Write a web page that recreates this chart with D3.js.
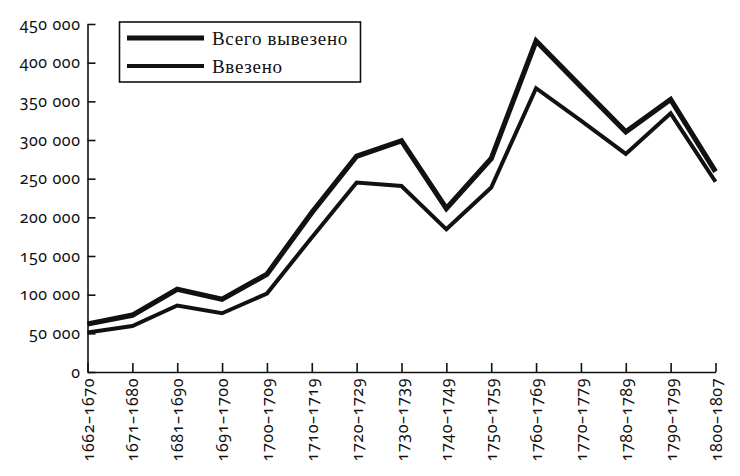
<!DOCTYPE html>
<html>
<head>
<meta charset="utf-8">
<script src="https://cdn.jsdelivr.net/npm/d3@7"></script>
<style>
  body { margin: 0; background: #fff; }
  .tick text { font-family: "Noto Sans", "DejaVu Sans", sans-serif; font-size: 16px; letter-spacing: 0.6px; font-variant-numeric: oldstyle-nums; font-feature-settings: "onum"; fill: #111; }
  .legend text { font-family: "Liberation Serif", "DejaVu Serif", serif; font-size: 19px; letter-spacing: 0.7px; fill: #111; }
</style>
</head>
<body>
<div class="chart"></div>
<script>
// periods along the x axis
const periods = ["1662–1670", "1671–1680", "1681–1690", "1691–1700", "1700–1709",
  "1710–1719", "1720–1729", "1730–1739", "1740–1749", "1750–1759",
  "1760–1769", "1770–1779", "1780–1789", "1790–1799", "1800–1807"];

// total exported (thick line)
const exported = [62000, 73500, 107000, 94000, 126500, 206000, 279000, 299000,
  211500, 276000, 428000, 369000, 310500, 352500, 259000];

// imported
const imported = [51000, 59500, 86000, 76000, 101500, 174000, 245000, 240500,
  184500, 238500, 367000, 325000, 282000, 334500, 246000];

const yTicks = [0, 50000, 100000, 150000, 200000, 250000, 300000, 350000, 400000, 450000];

const legendLabels = ["Всего вывезено", "Ввезено"];

//======================CHART==================================================================
const w = 740;
const h = 476;

const svg = d3.select(".chart").append("svg")
  .attr("width", w)
  .attr("height", h);

const xScale = d3.scalePoint()
  .domain(periods)
  .range([87.5, 715.5]);

const yScale = d3.scaleLinear()
  .domain([0, 450000])
  .range([372, 24]);

const fmt = v => v === 0 ? "0" : d3.format(",")(v).replace(/,/g, " ");

// axes: ticks point inward
const yAxis = svg.append("g")
  .attr("class", "y-axis")
  .attr("transform", "translate(87.5, 0)")
  .call(d3.axisRight(yScale).tickValues(yTicks).tickSize(8).tickSizeOuter(0).tickFormat(fmt));

yAxis.selectAll(".tick text")
  .attr("x", -7)
  .attr("text-anchor", "end");

const xAxis = svg.append("g")
  .attr("class", "x-axis")
  .attr("transform", "translate(0, 372)")
  .call(d3.axisTop(xScale).tickSize(9).tickSizeOuter(0));

xAxis.selectAll(".tick text")
  .attr("transform", "rotate(-90)")
  .attr("x", -6)
  .attr("y", 0)
  .attr("dy", "0.35em")
  .attr("text-anchor", "end");

svg.selectAll(".domain, .tick line")
  .attr("stroke", "#111")
  .attr("stroke-width", 1.6);

// lines
const line = d3.line()
  .x((d, i) => xScale(periods[i]))
  .y(d => yScale(d));

svg.append("path")
  .attr("d", line(exported))
  .attr("fill", "none")
  .attr("stroke", "#111")
  .attr("stroke-width", 5.2)
  .attr("stroke-linejoin", "miter");

svg.append("path")
  .attr("d", line(imported))
  .attr("fill", "none")
  .attr("stroke", "#111")
  .attr("stroke-width", 4)
  .attr("stroke-linejoin", "miter");

// legend
const legend = svg.append("g").attr("class", "legend");

legend.append("rect")
  .attr("x", 119.5)
  .attr("y", 22)
  .attr("width", 241)
  .attr("height", 60)
  .attr("fill", "#fff")
  .attr("stroke", "#111")
  .attr("stroke-width", 1.6);

const widths = [5.2, 4];
legendLabels.forEach((lbl, i) => {
  let y = 38 + i * 28;
  legend.append("line")
    .attr("x1", 127).attr("x2", 204)
    .attr("y1", y).attr("y2", y)
    .attr("stroke", "#111")
    .attr("stroke-width", widths[i]);
  legend.append("text")
    .attr("x", 212)
    .attr("y", y + 7)
    .text(lbl);
});
</script>
</body>
</html>
